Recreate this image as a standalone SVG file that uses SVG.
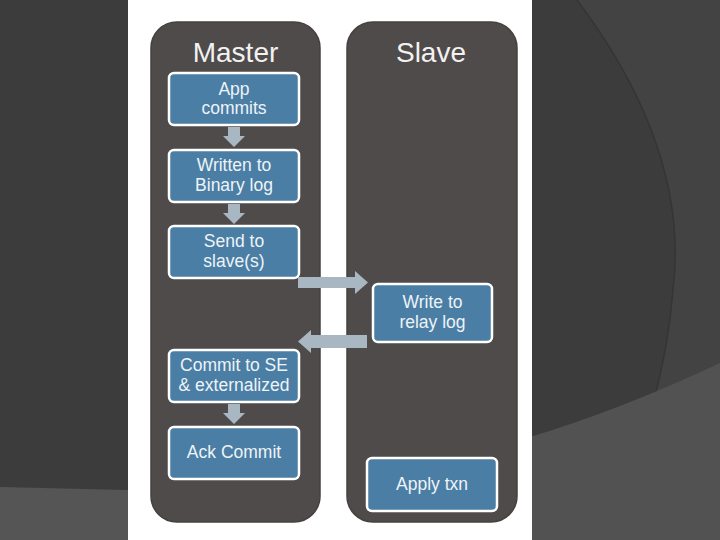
<svg xmlns="http://www.w3.org/2000/svg" width="720" height="540" viewBox="0 0 720 540">
<style>
.lane{fill:#4f4b4a;stroke:#45413f;stroke-width:1.5}
.title{font-family:"Liberation Sans",Arial,sans-serif;font-size:28px;fill:#f2f2f2;text-anchor:middle}
.box{fill:#4a7ea5;stroke:#ffffff;stroke-width:2.5}
.lbl{font-family:"Liberation Sans",Arial,sans-serif;font-size:17.5px;fill:#eef3f7;text-anchor:middle}
.arr{fill:#a9b7c3}
</style>
<rect x="0" y="0" width="720" height="540" fill="#3c3c3c"/>
<path d="M0 487 L128 490 L128 540 L0 540 Z" fill="#555555"/>
<path d="M577 0 Q690 150 673 290 Q662 430 590 540 L720 540 L720 0 Z" fill="#434343"/>
<path d="M577 0 Q690 150 673 290 Q662 430 590 540" fill="none" stroke="#353535" stroke-width="1.5"/>
<path d="M530 437 Q620 410 720 363 L720 540 L530 540 Z" fill="#525252"/>
<rect x="128" y="0" width="404" height="540" fill="#ffffff"/>

<g id="master-lane">
<rect class="lane" x="151" y="22" width="169" height="500" rx="26"/>
<text class="title" x="235.5" y="62">Master</text>
</g>
<g id="slave-lane">
<rect class="lane" x="347" y="22" width="170" height="500" rx="26"/>
<text class="title" x="431" y="62">Slave</text>
</g>

<g id="app-commits">
<rect class="box" x="169" y="73" width="130" height="52" rx="5"/>
<text class="lbl" x="234" y="95">App</text>
<text class="lbl" x="234" y="114">commits</text>
</g>
<g id="binary-log">
<rect class="box" x="169" y="150" width="130" height="52" rx="5"/>
<text class="lbl" x="234" y="171">Written to</text>
<text class="lbl" x="234" y="191">Binary log</text>
</g>
<g id="send-slave">
<rect class="box" x="169" y="226" width="130" height="52" rx="5"/>
<text class="lbl" x="234" y="247">Send to</text>
<text class="lbl" x="234" y="267">slave(s)</text>
</g>
<g id="relay-log">
<rect class="box" x="373" y="284" width="119" height="58" rx="5"/>
<text class="lbl" x="432.5" y="308">Write to</text>
<text class="lbl" x="432.5" y="328">relay log</text>
</g>
<g id="commit-se">
<rect class="box" x="169" y="350" width="130" height="52" rx="5"/>
<text class="lbl" x="234" y="371">Commit to SE</text>
<text class="lbl" x="234" y="391">&amp; externalized</text>
</g>
<g id="ack-commit">
<rect class="box" x="169" y="427" width="130" height="52" rx="5"/>
<text class="lbl" x="234" y="458">Ack Commit</text>
</g>
<g id="apply-txn">
<rect class="box" x="367" y="458" width="130" height="53" rx="5"/>
<text class="lbl" x="432" y="490">Apply txn</text>
</g>

<g id="connectors">
<path class="arr" d="M228 127 H240 V136 H245 L234 147 L223 136 H228 Z"/>
<path class="arr" d="M228 204 H240 V213 H245 L234 224 L223 213 H228 Z"/>
<path class="arr" d="M228 404 H240 V413 H245 L234 424 L223 413 H228 Z"/>
<path class="arr" d="M298 277 H355 V271 L368 282.5 L355 294 V288 H298 Z"/>
<path class="arr" d="M367 335 H311 V330 L298 341.5 L311 353 V348 H367 Z"/>
</g>
</svg>
